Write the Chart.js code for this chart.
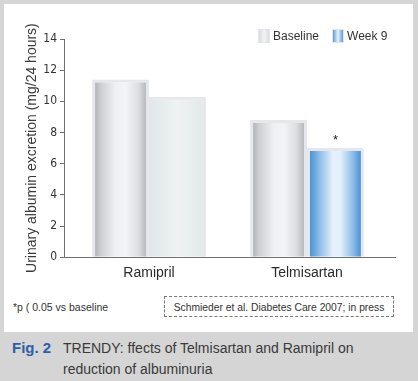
<!DOCTYPE html>
<html>
<head>
<meta charset="utf-8">
<script src="https://cdn.jsdelivr.net/npm/chart.js@4/dist/chart.umd.min.js"></script>
<style>
  html, body { margin:0; padding:0; }
  body { width:418px; height:381px; background:#d5d5d5; position:relative; overflow:hidden;
         font-family:"Liberation Sans", Arial, sans-serif; }
  #panel { position:absolute; left:4px; top:4px; width:409px; height:328px; background:#fff; }
  #wrap { position:absolute; left:4px; top:4px; width:409px; height:282px; }
  #legend { position:absolute; top:29px; left:258px; display:flex; align-items:center; font-size:12px; color:#333; }
  #legend .item { display:flex; align-items:center; margin-right:13px; }
  #legend .box { width:12px; height:14px; margin-right:3px; box-sizing:border-box; border:1px solid #e3e5ea; }
  #note { position:absolute; left:13px; top:301px; font-size:10.5px; color:#333; }
  #src { position:absolute; left:164px; top:296px; width:230px; height:21px; border:1px dashed #777;
         font-size:10.3px; color:#333; line-height:21px; text-align:center; box-sizing:border-box; }
  #cap { position:absolute; left:12px; top:337px; font-size:14px; color:#3a3a3a; line-height:21px; }
  #cap b { color:#2d5fa6; font-size:15px; display:inline-block; width:51px; }
  #cap .l2 { padding-left:51px; }
</style>
</head>
<body>
<div id="panel"></div>
<div id="wrap"><canvas id="c" width="409" height="282"></canvas></div>
<div id="legend"></div>
<div id="note">*p ( 0.05 vs baseline</div>
<div id="src">Schmieder et al. Diabetes Care 2007; in press</div>
<div id="cap"><b>Fig. 2</b>TRENDY: ffects of Telmisartan and Ramipril on<br><span class="l2">reduction of albuminuria</span></div>
<script>
const categories = ['Ramipril', 'Telmisartan'];
const seriesNames = ['Baseline', 'Week 9'];
const baselineValues = [11.4, 8.8];
const week9Values = [10.3, 7.0];
const significance = ['', '*'];
const yTicks = [0, 2, 4, 6, 8, 10, 12, 14];

const CAT_PCT = 0.72;

const grayStops = [[0,'#b3b4b8'],[0.12,'#cfd0d4'],[0.4,'#eff0f4'],[0.6,'#f3f4f7'],[0.85,'#dcdde1'],[1,'#b8b9bd']];
const paleStops = [[0,'#e1e8e9'],[0.5,'#eef2f3'],[1,'#e3e9ea']];
const blueStops = [[0,'#4c94d6'],[0.18,'#8bbbe8'],[0.45,'#e6f1fd'],[0.6,'#e3effc'],[0.85,'#8bbbe8'],[1,'#4a92d4']];

function stopsFor(ds, idx) {
  if (ds === 0) return grayStops;
  return idx === 0 ? paleStops : blueStops;
}

function barFill(ctx) {
  const chart = ctx.chart;
  const xs = chart.scales && chart.scales.x;
  const stops = stopsFor(ctx.datasetIndex, ctx.dataIndex);
  if (!xs || ctx.type !== 'data' || !isFinite(xs.width) || xs.width <= 0) return stops[2][1];
  const center = xs.getPixelForValue(ctx.dataIndex);
  const catW = xs.getPixelForValue(1) - xs.getPixelForValue(0);
  const barW = catW * CAT_PCT / 2;
  const left = ctx.datasetIndex === 0 ? center - barW : center;
  const g = chart.ctx.createLinearGradient(left + 3, 0, left + barW - 3, 0);
  stops.forEach(s => g.addColorStop(s[0], s[1]));
  return g;
}

const starPlugin = {
  id: 'star',
  afterDatasetsDraw(chart) {
    const c = chart.ctx;
    c.save();
    c.font = '13px "Liberation Sans", Arial, sans-serif';
    c.fillStyle = '#222';
    c.textAlign = 'center';
    c.textBaseline = 'bottom';
    const meta = chart.getDatasetMeta(1);
    significance.forEach((s, i) => {
      if (!s) return;
      const el = meta.data[i];
      c.fillText(s, el.x, el.y - 1);
    });
    c.restore();
  }
};

// HTML legend built from series names
const legendEl = document.getElementById('legend');
const legendBg = [
  'linear-gradient(to right,#d9dade,#f3f4f7 50%,#dcdde1)',
  'linear-gradient(to right,#5a9edb,#e6f1fd 50%,#5a9edb)'
];
seriesNames.forEach((n, i) => {
  const it = document.createElement('div'); it.className = 'item';
  const b = document.createElement('div'); b.className = 'box'; b.style.background = legendBg[i];
  const t = document.createElement('span'); t.textContent = n;
  it.appendChild(b); it.appendChild(t); legendEl.appendChild(it);
});

new Chart(document.getElementById('c'), {
  type: 'bar',
  data: {
    datasets: [
      { label: seriesNames[0], data: baselineValues.map((v, i) => ({ x: i, y: v })), backgroundColor: barFill,
        borderColor: '#e6e7ec', borderWidth: 3, borderSkipped: 'bottom' },
      { label: seriesNames[1], data: week9Values.map((v, i) => ({ x: i, y: v })), backgroundColor: barFill,
        borderColor: '#e6e7ec', borderWidth: 3, borderSkipped: 'bottom' }
    ]
  },
  options: {
    responsive: false,
    animation: false,
    events: [],
    layout: { padding: { top: 35, right: 18, bottom: 4, left: 0 } },
    datasets: { bar: { categoryPercentage: CAT_PCT, barPercentage: 1.0 } },
    plugins: { legend: { display: false }, tooltip: { enabled: false } },
    scales: {
      x: {
        type: 'linear',
        offset: false,
        min: -0.538, max: 1.557,
        afterBuildTicks(scale) { scale.ticks = categories.map((c, i) => ({ value: i })); },
        grid: { display: false },
        border: { display: true, color: '#6f6f6f', width: 1 },
        ticks: { color: '#2a2a2a', font: { family: '"Liberation Sans", Arial, sans-serif', size: 14 }, padding: 0,
                 autoSkip: false, maxRotation: 0,
                 callback: (v) => categories[v] }
      },
      y: {
        min: 0, max: 14,
        afterFit(scale) { scale.width = 60; },
        afterBuildTicks(scale) { scale.ticks = yTicks.map(v => ({ value: v })); },
        grid: { drawOnChartArea: false, drawTicks: true, tickLength: 4, color: '#6f6f6f' },
        border: { display: true, color: '#6f6f6f', width: 1 },
        ticks: { color: '#333', padding: 3,
                 font: { family: '"Liberation Sans Narrow", "DejaVu Sans Condensed", Arial, sans-serif', size: 12 } },
        title: { display: true, text: 'Urinary albumin excretion (mg/24 hours)', color: '#3a3a3a',
                 font: { family: '"Liberation Sans", Arial, sans-serif', size: 14 },
                 padding: { top: 20, bottom: 0 } }
      }
    }
  },
  plugins: [starPlugin]
});
</script>
</body>
</html>
